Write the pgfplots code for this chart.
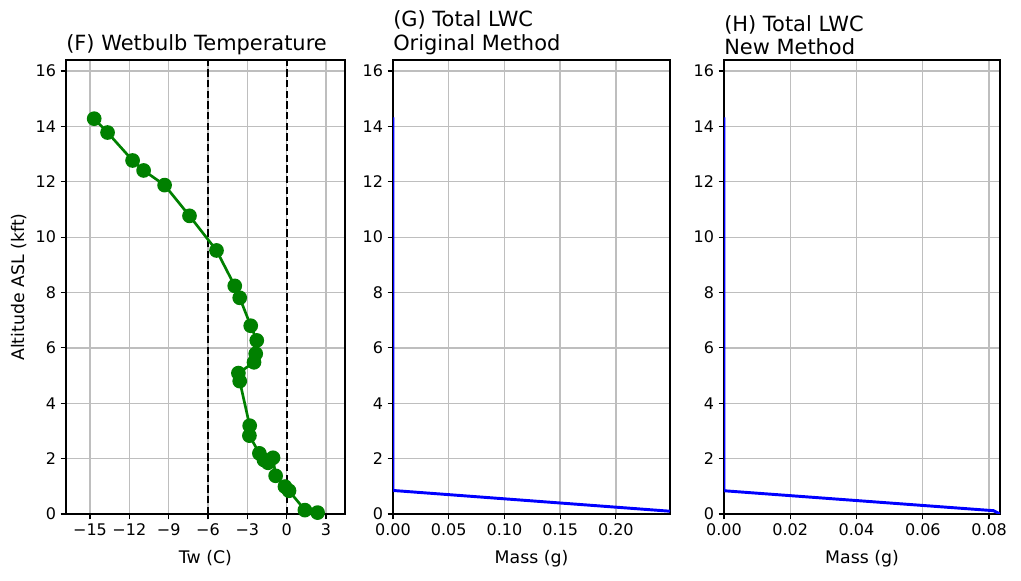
\documentclass[border=0pt]{standalone}
\usepackage{fontspec}
\setmainfont{DejaVu Sans}
\usepackage{pgfplots}
\pgfplotsset{compat=1.18}
\definecolor{mplgreen}{RGB}{0,128,0}
\definecolor{gridgray}{RGB}{190,190,190}
\pgfplotsset{
  mystyle/.style={
    scale only axis, height=340.5pt,
    ymin=0, ymax=16.4, ytick={0,2,...,16},
    grid=major, major grid style={gridgray, line width=1pt},
    axis line style={black, line width=0.9pt},
    every tick/.style={black, line width=0.9pt},
    tick align=outside, major tick length=4pt,
    xtick pos=left, ytick pos=left,
    scaled x ticks=false, scaled y ticks=false,
    ticklabel style={font=\fontsize{12}{14}\selectfont},
    label style={font=\fontsize{13}{15}\selectfont},
    xlabel style={yshift=-4pt},
    title style={font=\fontsize{15.7}{17.3}\selectfont, anchor=south west, at={(0,1)}, align=left, inner sep=0pt, yshift=-2pt},
    /pgf/number format/assume math mode=true,
    clip=true,
  }
}
\begin{document}
\begin{tikzpicture}
\path[use as bounding box] (-49.5pt,-50.25pt) rectangle (716.25pt,385.5pt);
% Panel F
\begin{axis}[mystyle, at={(0pt,0pt)}, anchor=south west, width=209.25pt,
  xmin=-16.83, xmax=4.45,
  xtick={-15,-12,-9,-6,-3,0,3},
  xticklabels={−15,−12,−9,−6,−3,0,3},
  xlabel={Tw (C)}, ylabel={Altitude ASL (kft)},
  title={(F) Wetbulb Temperature}]
\addplot[black, line width=1.6pt, dash pattern=on 5.5pt off 2.5pt] coordinates {(-6,0) (-6,16.4)};
\addplot[black, line width=1.6pt, dash pattern=on 5.5pt off 2.5pt] coordinates {(0,0) (0,16.4)};
\addplot[mplgreen, line width=2pt, mark=*, mark size=4.5pt, mark options={fill=mplgreen, draw=mplgreen}] coordinates {
(-14.68,14.28) (-13.66,13.78) (-11.75,12.77) (-10.91,12.41) (-9.31,11.88)
(-7.41,10.77) (-5.35,9.52) (-3.96,8.24) (-3.58,7.81) (-2.74,6.80)
(-2.28,6.27) (-2.36,5.79) (-2.49,5.48) (-3.68,5.09) (-3.58,4.80)
(-2.82,3.19) (-2.84,2.83) (-2.08,2.19) (-1.73,1.95) (-1.42,1.85)
(-1.04,2.03) (-0.84,1.38) (-0.13,0.99) (0.18,0.84) (1.39,0.14) (2.36,0.05)
};
\end{axis}
% Panel G
\begin{axis}[mystyle, at={(245.25pt,0pt)}, anchor=south west, width=207.75pt,
  xmin=0, xmax=0.2486,
  xtick={0,0.05,0.10,0.15,0.20},
  xticklabels={0.00,0.05,0.10,0.15,0.20},
  xlabel={Mass (g)},
  title={(G) Total LWC\\Original Method}]
\addplot[blue, line width=2.2pt] coordinates {(0,14.33) (0,0.85) (0.2486,0.10)};
\end{axis}
% Panel H
\begin{axis}[mystyle, at={(493.5pt,0pt)}, anchor=south west, width=207pt,
  xmin=0, xmax=0.0833,
  xtick={0,0.02,0.04,0.06,0.08},
  xticklabels={0.00,0.02,0.04,0.06,0.08},
  xlabel={Mass (g)},
  title={(H) Total LWC\\New Method}]
\addplot[blue, line width=2.2pt] coordinates {(0,14.33) (0,0.84) (0.0813,0.12) (0.0833,0.0)};
\end{axis}
\end{tikzpicture}
\end{document}
